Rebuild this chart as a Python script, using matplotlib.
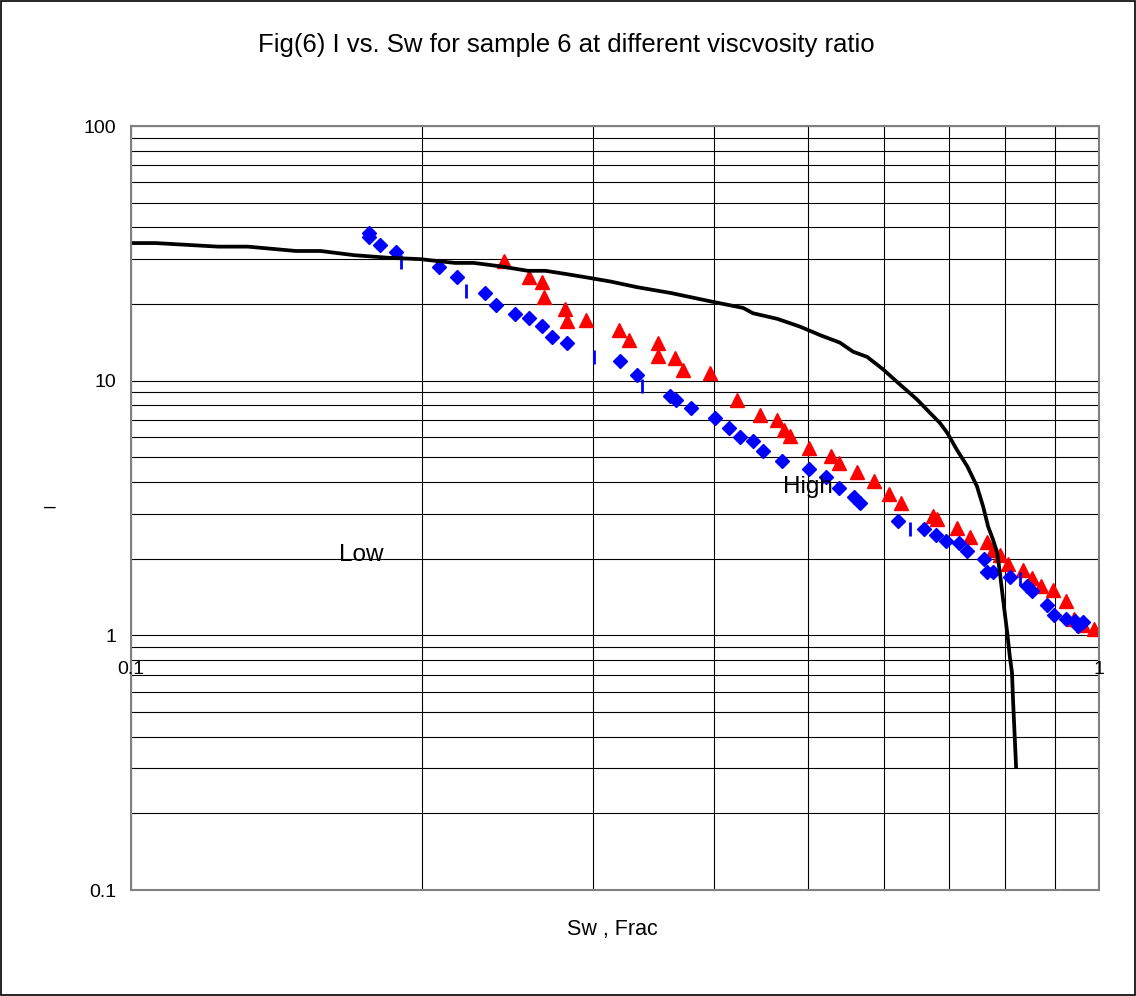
import matplotlib.pyplot as plt
from matplotlib.patches import Rectangle
from matplotlib.ticker import NullFormatter

plt.rcParams['font.family'] = ['Liberation Sans', 'DejaVu Sans']

# blue diamonds (Sw, I)
sw_blue = [0.176, 0.176, 0.181, 0.188, 0.208, 0.217, 0.232, 0.238, 0.249, 0.258,
           0.266, 0.272, 0.282, 0.320, 0.333, 0.360, 0.366, 0.379, 0.401, 0.415,
           0.426, 0.439, 0.450, 0.470, 0.502, 0.522, 0.539, 0.558, 0.566, 0.620,
           0.659, 0.679, 0.695, 0.717, 0.731, 0.761, 0.766, 0.777, 0.809, 0.842,
           0.853, 0.883, 0.899, 0.925, 0.945, 0.963, 0.951]
i_blue = [38.0, 36.7, 34.1, 31.9, 27.9, 25.6, 22.1, 19.9, 18.3, 17.7,
          16.4, 14.9, 14.1, 11.9, 10.5, 8.70, 8.42, 7.80, 7.16, 6.54,
          6.03, 5.82, 5.29, 4.83, 4.48, 4.20, 3.80, 3.48, 3.32, 2.82,
          2.62, 2.47, 2.35, 2.30, 2.14, 2.00, 1.78, 1.77, 1.70, 1.56,
          1.49, 1.32, 1.20, 1.16, 1.14, 1.13, 1.09]

# blue bar markers
sw_bar = [0.190, 0.222, 0.301, 0.337, 0.638, 0.829]
i_bar = [29.3, 22.5, 12.4, 9.50, 2.62, 1.66]

# red triangles
sw_red = [0.243, 0.258, 0.266, 0.267, 0.281, 0.282, 0.295, 0.319, 0.327, 0.350,
          0.350, 0.365, 0.372, 0.396, 0.423, 0.446, 0.465, 0.473, 0.479, 0.502,
          0.528, 0.539, 0.563, 0.585, 0.607, 0.625, 0.674, 0.681, 0.714, 0.735,
          0.767, 0.777, 0.790, 0.805, 0.835, 0.852, 0.872, 0.897, 0.924, 0.942,
          0.963, 0.989]
i_red = [29.4, 25.6, 24.5, 21.4, 19.1, 17.1, 17.3, 15.8, 14.4, 14.0,
         12.5, 12.3, 11.0, 10.7, 8.42, 7.31, 7.03, 6.43, 6.05, 5.45,
         5.08, 4.76, 4.38, 4.03, 3.60, 3.31, 2.95, 2.85, 2.65, 2.43,
         2.33, 2.17, 2.06, 1.91, 1.80, 1.68, 1.56, 1.51, 1.36, 1.16,
         1.10, 1.06]

# black curve
sw_line = [0.100, 0.106, 0.123, 0.132, 0.148, 0.157, 0.170, 0.184, 0.199, 0.216,
           0.226, 0.241, 0.257, 0.268, 0.282, 0.298, 0.313, 0.333, 0.361, 0.399,
           0.429, 0.439, 0.465, 0.491, 0.515, 0.540, 0.557, 0.576, 0.598, 0.623,
           0.649, 0.669, 0.685, 0.697, 0.713, 0.731, 0.748, 0.759, 0.768, 0.777,
           0.785, 0.790, 0.796, 0.804, 0.809, 0.813, 0.815, 0.821]
i_line = [34.7, 34.7, 33.6, 33.6, 32.3, 32.3, 31.1, 30.4, 30.0, 29.0,
          29.0, 28.1, 27.0, 27.0, 26.2, 25.3, 24.5, 23.3, 22.1, 20.4,
          19.3, 18.4, 17.5, 16.3, 15.1, 14.1, 13.0, 12.4, 11.1, 9.65,
          8.42, 7.47, 6.82, 6.24, 5.36, 4.61, 3.85, 3.21, 2.68, 2.38,
          2.11, 1.76, 1.38, 1.02, 0.820, 0.716, 0.561, 0.304]

y_ticks = [0.1, 1, 10, 100]
y_labels = ['0.1', '1', '10', '100']
x_ticks = [0.1, 1]
x_labels = ['0.1', '1']


def main():
    fig = plt.figure(figsize=(11.36, 9.96), dpi=100)
    ax = fig.add_axes([131 / 1136, 106 / 996, 968 / 1136, 764 / 996])

    ax.plot(sw_red, i_red, linestyle='none', marker='^', color='red', markersize=10.5)
    ax.plot(sw_blue, i_blue, linestyle='none', marker='D', color='blue', markersize=7.5)
    ax.plot(sw_bar, i_bar, linestyle='none', marker='|', color='blue',
            markersize=9.5, markeredgewidth=2)
    ax.plot(sw_line, i_line, color='black', linewidth=2.7)

    ax.set_xscale('log')
    ax.set_yscale('log')
    ax.set_xlim(0.1, 1)
    ax.set_ylim(0.1, 100)

    ax.grid(which='both', color='black', linewidth=0.8)
    ax.set_axisbelow(True)
    ax.set_yticks(y_ticks)
    ax.set_yticklabels(y_labels)
    ax.yaxis.set_minor_formatter(NullFormatter())
    ax.xaxis.set_major_formatter(NullFormatter())
    ax.xaxis.set_minor_formatter(NullFormatter())
    ax.tick_params(which='both', length=0, labelsize=14, pad=10.5)

    # x tick labels sit under the I = 1 line
    for x, lab in zip(x_ticks, x_labels):
        ax.text(x, 0.736, lab, ha='center', va='center', fontsize=14)

    for s in ax.spines.values():
        s.set_color('#808080')
        s.set_linewidth(1.5)

    ax.text(0.173, 2.06, 'Low', ha='center', va='center', fontsize=17.5)
    ax.text(0.50, 3.83, 'High', ha='center', va='center', fontsize=17.5)

    fig.text(566 / 1136, 1 - 45 / 996, 'Fig(6) I vs. Sw for sample 6 at different viscvosity ratio',
             ha='center', va='center', fontsize=18.5)
    fig.text(612 / 1136, 1 - 930 / 996, 'Sw , Frac', ha='center', va='center', fontsize=15.5)
    fig.text(50 / 1136, 1 - 507 / 996, '–', ha='center', va='center', fontsize=15)

    fig.patches.append(Rectangle((0.001, 0.001), 0.998, 0.998, transform=fig.transFigure,
                                 fill=False, edgecolor='black', linewidth=1.2))

    fig.savefig('out.png', dpi=100)


if __name__ == '__main__':
    main()
